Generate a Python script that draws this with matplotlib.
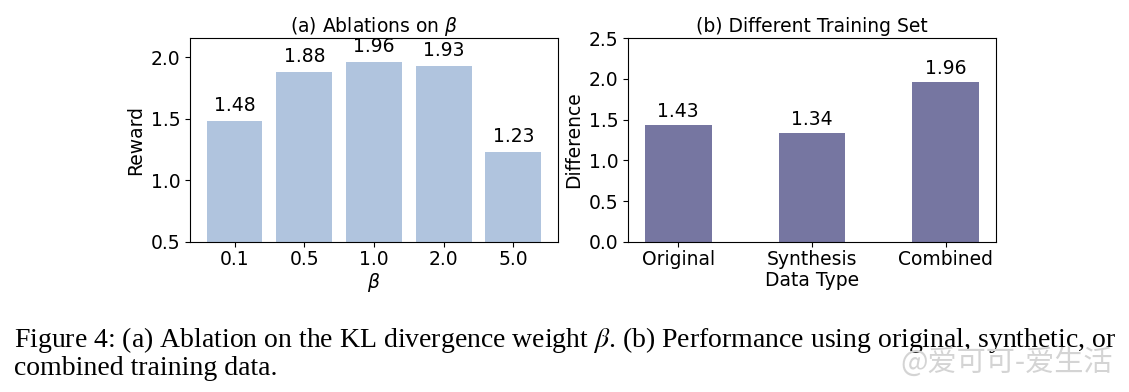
import matplotlib.pyplot as plt

# datos del panel (a)
betas = ["0.1", "0.5", "1.0", "2.0", "5.0"]
reward = [1.48, 1.88, 1.96, 1.93, 1.23]

# datos del panel (b)
data_types = ["Original", "Synthesis", "Combined"]
difference = [1.43, 1.34, 1.96]

plt.rcParams["font.size"] = 13.5

fig = plt.figure(figsize=(11.29, 3.92), dpi=100)
ax1 = fig.add_axes([0.1683, 0.383, 0.3259, 0.520])
ax2 = fig.add_axes([0.5562, 0.383, 0.3260, 0.520])

# ================================
# (a) Ablations on beta
# ================================
bars = ax1.bar(betas, reward, width=0.8, color="#b0c4de")
for b, v in zip(bars, reward):
    ax1.text(b.get_x() + b.get_width() / 2, v + 0.05, f"{v:.2f}",
             ha="center", va="bottom")
ax1.set_ylim(0.5, max(reward) * 1.1)
ax1.set_yticks([0.5, 1.0, 1.5, 2.0])
ax1.set_title(r"(a) Ablations on $\beta$", fontsize=13.5, pad=4)
ax1.set_xlabel(r"$\beta$", labelpad=1)
ax1.set_ylabel("Reward")
ax1.tick_params(axis="x", pad=2.5)

# ================================
# (b) Different Training Set
# ================================
bars = ax2.bar(data_types, difference, width=0.5, color="#7676a1")
for b, v in zip(bars, difference):
    ax2.text(b.get_x() + b.get_width() / 2, v + 0.05, f"{v:.2f}",
             ha="center", va="bottom")
ax2.set_ylim(0, 2.5)
ax2.set_title("(b) Different Training Set", fontsize=13.5, pad=4)
ax2.set_xlabel("Data Type", labelpad=1)
ax2.set_ylabel("Difference")
ax2.tick_params(axis="x", pad=2.5)

# pie de figura
fig.text(0.012, 0.115, r"Figure 4: (a) Ablation on the KL divergence weight $\beta$. "
         "(b) Performance using original, synthetic, or",
         family="Liberation Serif", math_fontfamily="stix", fontsize=20, va="baseline")
fig.text(0.012, 0.043, "combined training data.",
         family="Liberation Serif", fontsize=20, va="baseline")

# marca de agua
fig.text(0.986, 0.075, "@爱可可-爱生活", family=["Noto Sans CJK SC", "DejaVu Sans"],
         fontsize=21, color="#d4d4d4", ha="right", va="center")

fig.savefig("out.png", dpi=100)
